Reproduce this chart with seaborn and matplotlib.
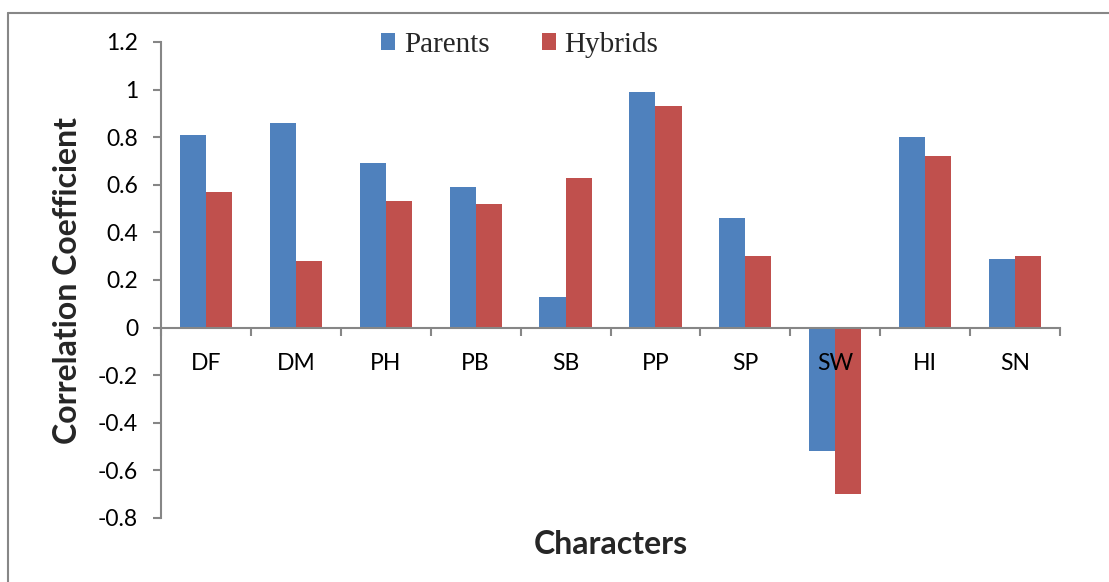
import matplotlib
matplotlib.use("Agg")
import matplotlib.pyplot as plt
from matplotlib.lines import Line2D
from matplotlib.patches import Patch
import seaborn as sns
import pandas as pd
import numpy as np

# Correlation of each character with yield
characters = ["DF", "DM", "PH", "PB", "SB", "PP", "SP", "SW", "HI", "SN"]
parents = [0.81, 0.86, 0.69, 0.59, 0.13, 0.99, 0.46, -0.52, 0.80, 0.29]
hybrids = [0.57, 0.28, 0.53, 0.52, 0.63, 0.93, 0.30, -0.70, 0.72, 0.30]
groups = ["Parents", "Hybrids"]
colors = ["#4F81BD", "#C0504D"]
y_ticks = [-0.8, -0.6, -0.4, -0.2, 0, 0.2, 0.4, 0.6, 0.8, 1, 1.2]

df = pd.DataFrame({
    "Character": characters * 2,
    "Group": [groups[0]] * len(characters) + [groups[1]] * len(characters),
    "Value": parents + hybrids,
})

sns.set_theme(style="white")
plt.rcParams["font.family"] = ["Lato", "DejaVu Sans"]

fig = plt.figure(figsize=(11.09, 5.82), dpi=100)
ax = fig.add_axes([161 / 1109, 1 - 518 / 582, (1060 - 161) / 1109, (518 - 42) / 582])

sns.barplot(data=df, x="Character", y="Value", hue="Group", order=characters,
            hue_order=groups, palette=colors, width=0.58, saturation=1,
            linewidth=0, ax=ax, legend=False)
# keep tick labels drawn over the bars
ax.set_axisbelow(False)

axis_gray = "#868686"
tick_size = 16.5
ax.set_xlim(-0.5, len(characters) - 0.5)
ax.set_ylim(-0.8, 1.2)
ax.set_yticks(y_ticks)
ax.set_yticklabels(["{:g}".format(v) for v in y_ticks], fontsize=tick_size)

for side in ["top", "right"]:
    ax.spines[side].set_visible(False)
ax.spines["bottom"].set_position(("data", 0))
for side in ["left", "bottom"]:
    ax.spines[side].set_color(axis_gray)
    ax.spines[side].set_linewidth(1.5)

# category boundaries carry the tick marks, category centres carry the labels
ax.set_xticks(np.arange(-0.5, len(characters), 1.0))
ax.set_xticklabels([])
ax.set_xticks(np.arange(len(characters)), minor=True)
ax.set_xticklabels(characters, minor=True, fontsize=tick_size)
ax.tick_params(axis="x", which="major", direction="out", length=5.5, width=1.5,
               color=axis_gray, bottom=True)
ax.tick_params(axis="x", which="minor", length=0, pad=18, bottom=True)
ax.tick_params(axis="y", direction="out", length=5.5, width=1.5, color=axis_gray,
               left=True, pad=11, labelcolor="black")
ax.tick_params(axis="x", labelcolor="black", which="both")

ax.set_xlabel("")
ax.set_ylabel("")
fig.text(611 / 1109, 1 - 545 / 582, "Characters", ha="center", va="center",
         fontsize=23, fontweight="bold")
fig.text(68 / 1109, 1 - 280 / 582, "Correlation Coefficient", ha="center",
         va="center", rotation=90, fontsize=23, fontweight="bold")

handles = [Patch(facecolor=c, edgecolor="none") for c in colors]
fig.legend(handles, groups, loc="center left", bbox_to_anchor=(381 / 1109, 1 - 45 / 582),
           ncol=2, frameon=False, borderpad=0, borderaxespad=0,
           handlelength=0.48, handleheight=0.5, handletextpad=0.3, columnspacing=1.8,
           prop={"family": "Liberation Serif", "size": 21})

# outer chart frame
frame_kw = dict(color="#878787", linewidth=1.5, transform=fig.transFigure)
fig.add_artist(Line2D([8 / 1109, 1.0], [1 - 13 / 582, 1 - 13 / 582], **frame_kw))
fig.add_artist(Line2D([8 / 1109, 8 / 1109], [0.0, 1 - 13 / 582], **frame_kw))

fig.savefig("out.png", dpi=100)
